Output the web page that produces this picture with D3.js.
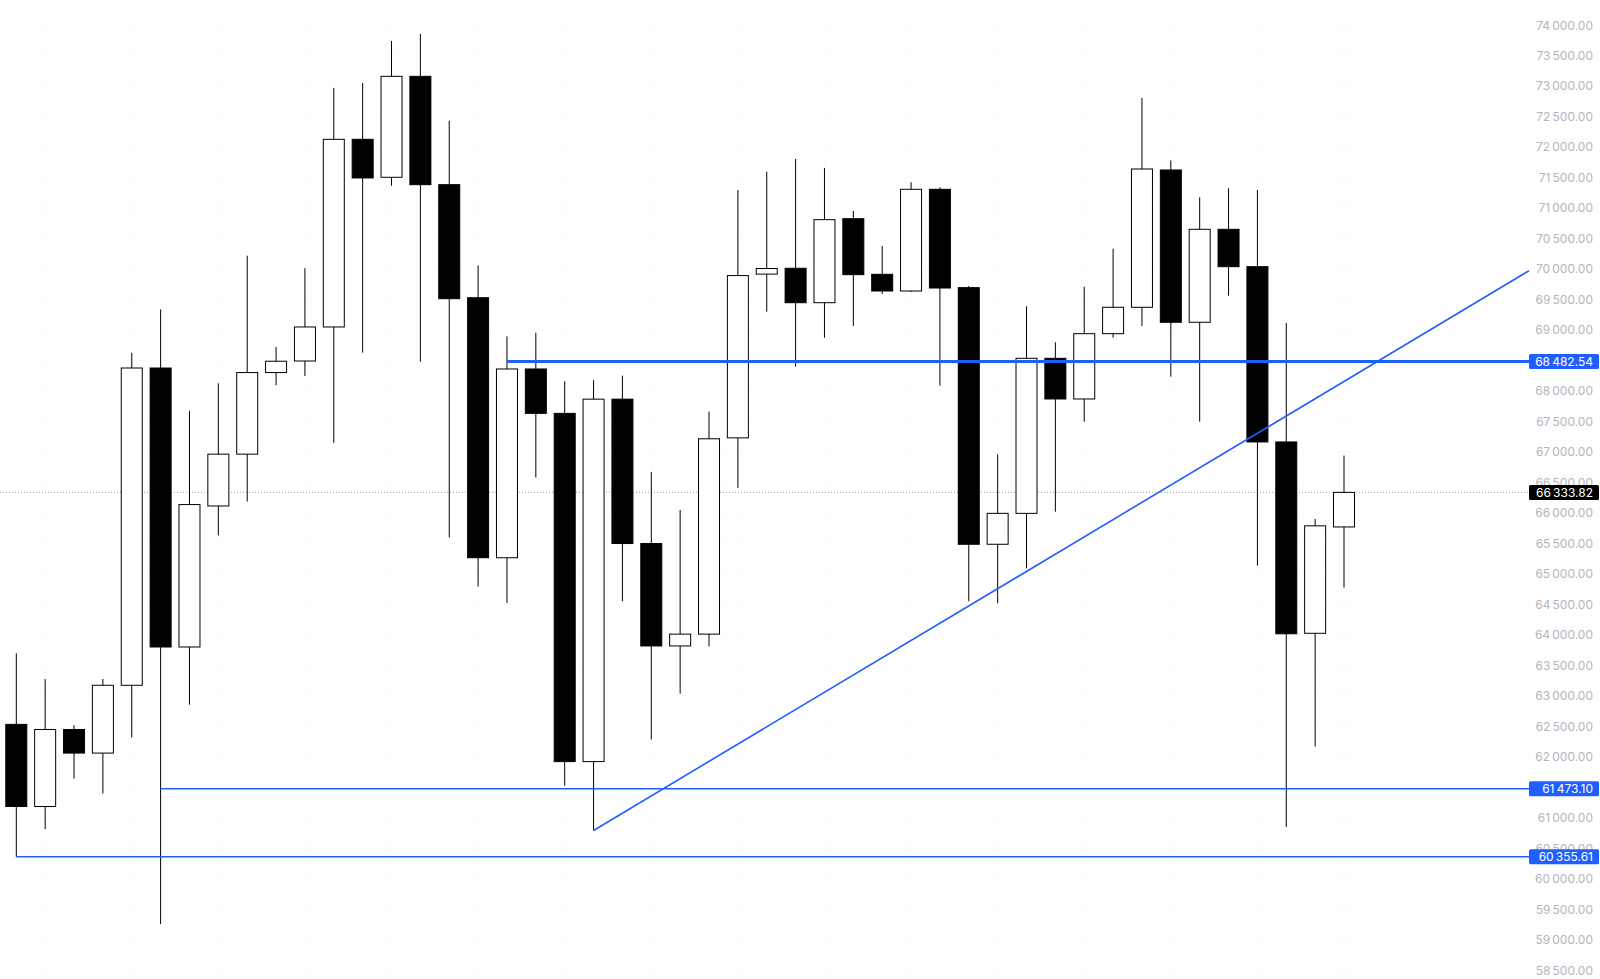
<!DOCTYPE html>
<html>
<head>
<meta charset="utf-8">
<script src="https://cdn.jsdelivr.net/npm/d3@7/dist/d3.min.js"></script>
<style>
  html, body { margin: 0; padding: 0; background: #ffffff; }
  svg { display: block; }
  text { font-family: Inter, "Noto Sans", "DejaVu Sans", sans-serif; }
</style>
</head>
<body>
<svg id="chart" width="1600" height="979"></svg>
<script>
// ---- data (daily OHLC) ----
const candles = d3.range(1, 48);
const open  = [62529,61182,62445,62058,63170,68374,63798,66111,66961,68299,
               68489,69047,72125,71502,73158,71381,69527,65262,68358,67630,
               61918,67863,65495,63815,64009,67228,69914,70010,69445,70823,
               69911,69637,71305,69692,65483,65990,68533,67866,68937,69370,
               71622,69124,70649,70036,67161,64023,65767];
const high  = [63695,63273,62515,63273,68624,69334,67671,68123,70216,68717,
               70010,72967,73049,73738,73852,72430,70054,68893,68953,68156,
               68173,68249,66670,66045,67661,71292,71594,71802,71655,70949,
               70375,71420,71338,69719,66958,69386,68796,69708,70331,72803,
               71780,71174,71322,71294,69112,65898,66938];
const low   = [60355.61,60810,61639,61395,62314,59255,62852,65628,66184,68090,
               68243,67146,68626,71364,68478,65594,64789,64520,66578,61523,
               60789,64550,62281,63032,63807,66408,69298,68396,68871,69063,
               69588,69621,68084,64547,64514,65089,66017,67494,68871,69063,
               68232,67494,69560,65132,60847,62165,64774];
const close = [61182,62445,62058,63170,68374,63798,66134,66961,68299,68485,
               69047,72125,71491,73158,71381,69511,65262,68358,67630,61918,
               67863,65495,63815,64009,67213,69890,70006,69445,70807,69905,
               69637,71305,69686,65483,65990,68533,67866,68937,69370,71638,
               69124,70649,70036,67161,64015,65785,66333.82];

// price-axis ticks (all grid levels) and the ones whose label is visible
const tickValues = [58500,59000,59500,60000,60500,61000,61500,62000,62500,63000,
                    63500,64000,64500,65000,65500,66000,66500,67000,67500,68000,
                    68500,69000,69500,70000,70500,71000,71500,72000,72500,73000,
                    73500,74000];
const hiddenTickLabels = [61500, 68500];

// horizontal drawn levels: price, start candle, stroke width
const levelPrices = [68482.54, 61473.10, 60355.61];
const levelStart  = [18, 6, 1];
const levelWidth  = [3, 1.5, 1.5];

// trend line anchors (candle, price)
const trendCandles = [21, 45];
const trendPrices  = [60789, 67587];

const lastPrice = 66333.82;

// ---- layout ----
const W = 1600, H = 979;
const plotRight = 1529;
const svg = d3.select("#chart");
svg.append("rect").attr("width", W).attr("height", H).attr("fill", "#ffffff");

const x = d3.scalePoint().domain(candles).range([16.3, 1344]);
const y = d3.scaleLinear().domain([58500, 74000]).range([970, 25]);
const bodyW = 21;

const loc = d3.formatLocale({decimal: ".", thousands: "\u2009", grouping: [3], currency: ["", ""]});
const fmt = loc.format(",.2f");

// very faint grid
const grid = svg.append("g");
grid.selectAll("line.h").data(tickValues).join("line")
  .attr("x1", 0).attr("x2", plotRight)
  .attr("y1", d => y(d)).attr("y2", d => y(d))
  .attr("stroke", "#fbfbfc").attr("stroke-width", 1);
grid.selectAll("line.v").data(candles.filter((c, i) => i % 3 === 1)).join("line")
  .attr("x1", d => x(d)).attr("x2", d => x(d))
  .attr("y1", 0).attr("y2", H)
  .attr("stroke", "#fbfbfc").attr("stroke-width", 1);

// last price dotted line
svg.append("line")
  .attr("x1", 0).attr("x2", plotRight)
  .attr("y1", y(lastPrice)).attr("y2", y(lastPrice))
  .attr("stroke", "#9a9da5").attr("stroke-width", 1)
  .attr("stroke-dasharray", "1,2");

// candles
const data = candles.map((c, i) => ({c, o: open[i], h: high[i], l: low[i], cl: close[i]}));
const g = svg.append("g");
g.selectAll("line.wick").data(data).join("line")
  .attr("x1", d => x(d.c)).attr("x2", d => x(d.c))
  .attr("y1", d => y(d.h)).attr("y2", d => y(d.l))
  .attr("stroke", "#000").attr("stroke-width", 1);
g.selectAll("rect.body").data(data).join("rect")
  .attr("x", d => x(d.c) - bodyW / 2)
  .attr("width", bodyW)
  .attr("y", d => y(Math.max(d.o, d.cl)))
  .attr("height", d => Math.max(1, Math.abs(y(d.o) - y(d.cl))))
  .attr("fill", d => d.cl >= d.o ? "#ffffff" : "#000000")
  .attr("stroke", "#000").attr("stroke-width", 1);

// horizontal levels
const blue = "#1f5fff";
levelPrices.forEach((p, i) => {
  svg.append("line")
    .attr("x1", x(levelStart[i])).attr("x2", plotRight)
    .attr("y1", y(p)).attr("y2", y(p))
    .attr("stroke", blue).attr("stroke-width", levelWidth[i]);
});

// trend line, extended to the right edge of the plot
const tx0 = x(trendCandles[0]), ty0 = y(trendPrices[0]);
const tx1 = x(trendCandles[1]), ty1 = y(trendPrices[1]);
const slope = (ty1 - ty0) / (tx1 - tx0);
svg.append("line")
  .attr("x1", tx0).attr("y1", ty0)
  .attr("x2", plotRight).attr("y2", ty0 + slope * (plotRight - tx0))
  .attr("stroke", blue).attr("stroke-width", 1.6);

// price axis labels
const axis = svg.append("g");
axis.selectAll("text").data(tickValues.filter(t => !hiddenTickLabels.includes(t))).join("text")
  .attr("x", 1593).attr("y", d => y(d))
  .attr("text-anchor", "end").attr("dominant-baseline", "central")
  .attr("font-size", 12).attr("fill", "#b2b5be")
  .text(d => fmt(d));

// label boxes
function tag(price, bg) {
  const gg = svg.append("g");
  gg.append("rect")
    .attr("x", plotRight).attr("y", y(price) - 7.5)
    .attr("width", 1599 - plotRight).attr("height", 15)
    .attr("rx", 1.5)
    .attr("fill", bg);
  gg.append("text")
    .attr("x", 1593).attr("y", y(price))
    .attr("text-anchor", "end").attr("dominant-baseline", "central")
    .attr("font-size", 12).attr("fill", "#ffffff")
    .text(fmt(price));
}
levelPrices.forEach(p => tag(p, blue));
tag(lastPrice, "#000000");
</script>
</body>
</html>
